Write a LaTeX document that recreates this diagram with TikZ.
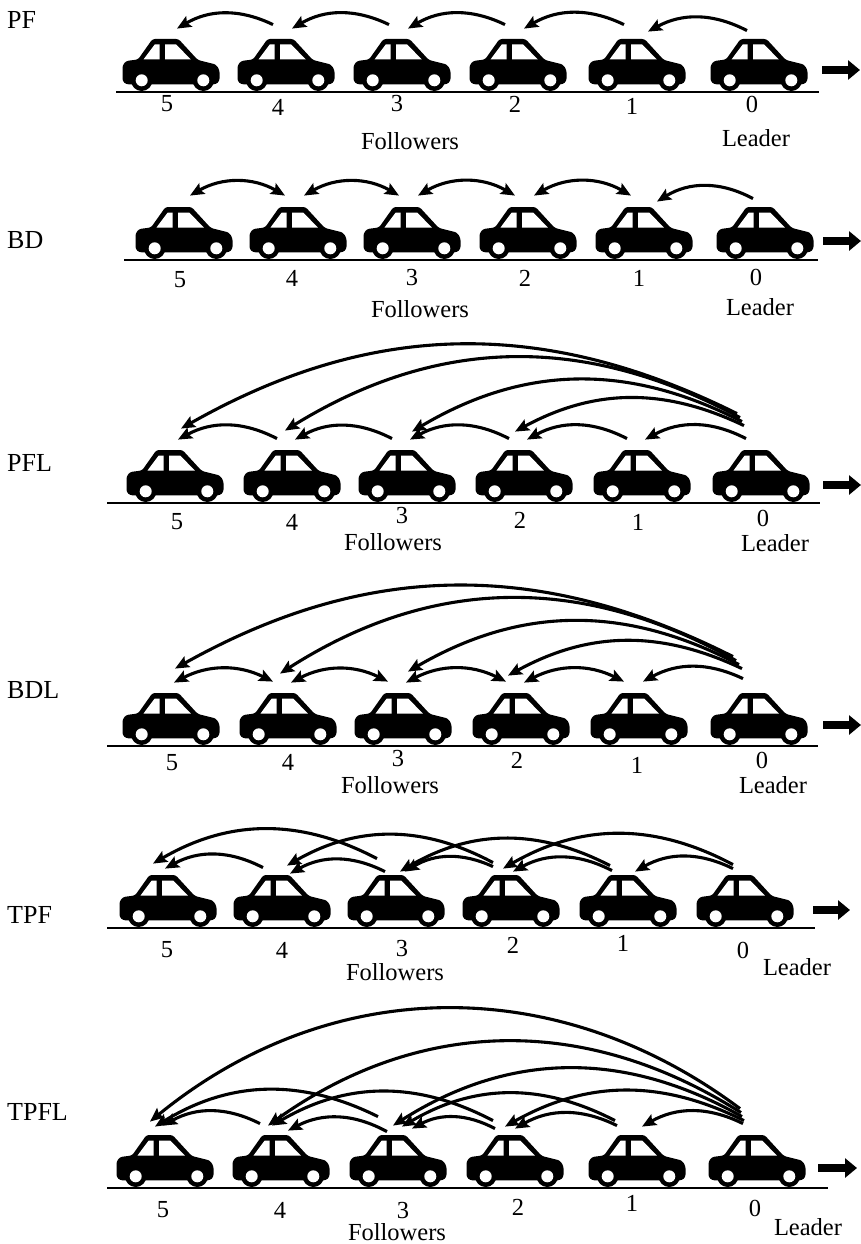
\documentclass[tikz,border=0pt]{standalone}
\usepackage{fontspec}
\setmainfont{Liberation Serif}
\usetikzlibrary{arrows.meta,calc}
% arc between two cars: [style]{from}{shift}{to}{shift}{bend}
\newcommand\linkto[6][link]{\draw[#1] ([shift={#3}]#2.north) to[bend right=#6] ([shift={#5}]#4.north);}
\begin{document}
\begin{tikzpicture}[x=1pt,y=-1pt,
  carbox/.style={rectangle,minimum width=97pt,minimum height=52pt,inner sep=0pt,anchor=south},
  road/.style={line width=2.6pt},
  tip/.style={Stealth[length=14pt,width=12pt,inset=2.5pt]},
  link/.style={line width=3.1pt,-{Stealth[length=14pt,width=12pt,inset=2.5pt]}},
  dlink/.style={line width=3.1pt,{Stealth[length=14pt,width=12pt,inset=2.5pt]}-{Stealth[length=14pt,width=12pt,inset=2.5pt]}},
  heading/.style={line width=7.5pt,-{Triangle[length=12pt,width=19pt]}},
  num/.style={font=\fontsize{24.5}{28}\selectfont,inner sep=0pt},
  rowname/.style={font=\fontsize{26}{30}\selectfont,anchor=west,inner sep=0pt},
  car/.pic={
    \fill[rounded corners=2.5pt] (-45,-6.7) -- (45,-6.7) -- (48.5,-10) -- (48.5,-21) -- (45,-26.5)
      -- (26.8,-31) -- (7.5,-52) -- (-18.5,-52) -- (-33,-31.5) -- (-45,-30) -- (-48.5,-25.5)
      -- (-48.5,-10) -- cycle;
    \fill[white] (-27.5,-31.5) -- (-16.3,-46.5) -- (-11.5,-46.5) -- (-11.5,-31.5) -- cycle;
    \fill[white] (-5.8,-31.5) -- (-5.8,-46.5) -- (5.2,-46.5) -- (19.8,-31.5) -- cycle;
    \fill (-29.3,-10.7) circle (10.7pt) (32.3,-10.7) circle (10.7pt);
    \fill[white] (-29.3,-10.7) circle (6pt) (32.3,-10.7) circle (6pt);
  }
]
\useasboundingbox (0,0) rectangle (861,1244);

% ---------- PF ----------
\node[rowname] (n1) at (7,20) {PF};
\draw[road] (116,92) -- (819,92);
\draw[heading] (822,70) -- (860,70);
\foreach \i/\x in {0/759,1/637,2/518,3/402,4/286,5/171}
  {\node[carbox] (p1c\i) at (\x,91) {}; \pic at (p1c\i.south) {car};}
\node[num] (t1c5) at (167,104) {5};
\node[num] (t1c4) at (278,107) {4};
\node[num] (t1c3) at (397,104) {3};
\node[num] (t1c2) at (515,104) {2};
\node[num] (t1c1) at (632,106) {1};
\node[num] (t1c0) at (752,104) {0};
\node[num] (f1) at (410,141) {Followers};
\node[num] (l1) at (756,138) {Leader};
\foreach \a/\b in {1/2,2/3,3/4,4/5} {\linkto{p1c\a}{(-13,-14)}{p1c\b}{(6,-10)}{28}}
\linkto{p1c0}{(-12,-8)}{p1c1}{(11,-7)}{28}

% ---------- BD ----------
\node[rowname] (n2) at (7,240) {BD};
\draw[road] (124,260) -- (818,260);
\draw[heading] (823,241) -- (861,241);
\foreach \i/\x in {0/765,1/644,2/528,3/412,4/298,5/184}
  {\node[carbox] (p2c\i) at (\x,259) {}; \pic at (p2c\i.south) {car};}
\node[num] (t2c5) at (180,280) {5};
\node[num] (t2c4) at (292,278) {4};
\node[num] (t2c3) at (412,278) {3};
\node[num] (t2c2) at (525,278) {2};
\node[num] (t2c1) at (639,278) {1};
\node[num] (t2c0) at (756,277) {0};
\node[num] (f2) at (420,309) {Followers};
\node[num] (l2) at (760,307) {Leader};
\foreach \a/\b in {1/2,2/3,3/4,4/5} {\linkto[dlink]{p2c\a}{(-13,-11)}{p2c\b}{(6,-11)}{30}}
\linkto{p2c0}{(-12,-8)}{p2c1}{(13,-5)}{30}

% ---------- PFL ----------
\node[rowname] (n3) at (7,463) {PFL};
\draw[road] (107,503) -- (820,503);
\draw[heading] (823,485) -- (861,485);
\foreach \i/\x in {0/761,1/642,2/524,3/407,4/292,5/175}
  {\node[carbox] (p3c\i) at (\x,502) {}; \pic at (p3c\i.south) {car};}
\node[num] (t3c5) at (177,522) {5};
\node[num] (t3c4) at (292,522) {4};
\node[num] (t3c3) at (402,516) {3};
\node[num] (t3c2) at (520,520) {2};
\node[num] (t3c1) at (638,522) {1};
\node[num] (t3c0) at (763,518) {0};
\node[num] (f3) at (393,542) {Followers};
\node[num] (l3) at (775,543) {Leader};
\foreach \a/\b in {0/1,1/2,2/3,3/4,4/5} {\linkto{p3c\a}{(-15,-11)}{p3c\b}{(3,-10)}{28}}
\linkto{p3c0}{(-24,-36)}{p3c5}{(6,-21)}{28}
\linkto{p3c0}{(-21,-32)}{p3c4}{(-7,-19)}{30}
\linkto{p3c0}{(-19,-28)}{p3c3}{(5,-18)}{29}
\linkto{p3c0}{(-17,-24)}{p3c2}{(-9,-18)}{27}

% ---------- BDL ----------
\node[rowname] (n4) at (7,690) {BDL};
\draw[road] (107,746) -- (818,746);
\draw[heading] (823,725) -- (861,725);
\foreach \i/\x in {0/759,1/639,2/521,3/403,4/288,5/171}
  {\node[carbox] (p4c\i) at (\x,745) {}; \pic at (p4c\i.south) {car};}
\node[num] (t4c5) at (172,763) {5};
\node[num] (t4c4) at (288,762) {4};
\node[num] (t4c3) at (398,758) {3};
\node[num] (t4c2) at (517,760) {2};
\node[num] (t4c1) at (637,765) {1};
\node[num] (t4c0) at (762,760) {0};
\node[num] (f4) at (390,785) {Followers};
\node[num] (l4) at (773,785) {Leader};
\foreach \a/\b in {1/2,2/3,3/4,4/5} {\linkto[dlink]{p4c\a}{(-15,-11)}{p4c\b}{(3,-10)}{27}}
\linkto{p4c0}{(-16,-14)}{p4c1}{(4,-11)}{27}
\linkto{p4c0}{(-26,-36)}{p4c5}{(4,-24)}{28}
\linkto{p4c0}{(-23,-32)}{p4c4}{(-8,-19)}{31}
\linkto{p4c0}{(-20,-28)}{p4c3}{(5,-21)}{29}
\linkto{p4c0}{(-17,-24)}{p4c2}{(-13,-17)}{27}

% ---------- TPF ----------
\node[rowname] (n5) at (7,915) {TPF};
\draw[road] (107,928) -- (815,928);
\draw[heading] (813,910) -- (850,910);
\foreach \i/\x in {0/745,1/628,2/511,3/396,4/282,5/168}
  {\node[carbox] (p5c\i) at (\x,927) {}; \pic at (p5c\i.south) {car};}
\node[num] (t5c5) at (167,950) {5};
\node[num] (t5c4) at (282,950) {4};
\node[num] (t5c3) at (402,948) {3};
\node[num] (t5c2) at (513,945) {2};
\node[num] (t5c1) at (623,943) {1};
\node[num] (t5c0) at (743,950) {0};
\node[num] (f5) at (395,972) {Followers};
\node[num] (l5) at (797,967) {Leader};
\linkto{p5c0}{(-12,-6)}{p5c1}{(7,-3)}{28}
\linkto{p5c1}{(-16,-4)}{p5c2}{(2,-3)}{28}
\linkto{p5c2}{(-18,-8)}{p5c3}{(9,-3)}{28}
\linkto{p5c3}{(-11,-3)}{p5c4}{(8,-1)}{28}
\linkto{p5c4}{(-19,-7)}{p5c5}{(-3,-6)}{28}
\linkto{p5c0}{(-12,-10)}{p5c2}{(-8,-6)}{29}
\linkto{p5c1}{(-18,-9)}{p5c3}{(4,-3)}{29}
\linkto{p5c2}{(-18,-12)}{p5c4}{(5,-9)}{29}
\linkto{p5c3}{(-19,-16)}{p5c5}{(-15,-11)}{29}

% ---------- TPFL ----------
\node[rowname] (n6) at (7,1112) {TPFL};
\draw[road] (107,1188) -- (828,1188);
\draw[heading] (818,1168) -- (857,1168);
\foreach \i/\x in {0/757,1/637,2/515,3/398,4/281,5/165}
  {\node[carbox] (p6c\i) at (\x,1187) {}; \pic at (p6c\i.south) {car};}
\node[num] (t6c5) at (163,1210) {5};
\node[num] (t6c4) at (280,1210) {4};
\node[num] (t6c3) at (403,1210) {3};
\node[num] (t6c2) at (518,1207) {2};
\node[num] (t6c1) at (632,1203) {1};
\node[num] (t6c0) at (755,1208) {0};
\node[num] (f6) at (397,1232) {Followers};
\node[num] (l6) at (808,1227) {Leader};
\linkto{p6c0}{(-14,-11)}{p6c1}{(5,-8)}{28}
\linkto{p6c1}{(-20,-9)}{p6c2}{(0,-6)}{28}
\linkto{p6c2}{(-20,-6)}{p6c3}{(14,-6)}{28}
\linkto{p6c3}{(-11,-3)}{p6c4}{(7,-4)}{28}
\linkto{p6c4}{(-21,-11)}{p6c5}{(-2,-9)}{28}
\linkto{p6c0}{(-13,-14)}{p6c2}{(-10,-8)}{28}
\linkto{p6c1}{(-22,-14)}{p6c3}{(4,-8)}{29}
\linkto{p6c2}{(-22,-14)}{p6c4}{(-9,-9)}{29}
\linkto{p6c3}{(-20,-18)}{p6c5}{(-10,-8)}{29}
\linkto{p6c0}{(-15,-18)}{p6c3}{(-5,-9)}{31}
\linkto{p6c0}{(-16,-22)}{p6c4}{(-13,-9)}{34}
\linkto{p6c0}{(-17,-26)}{p6c5}{(-15,-13)}{38}

\end{tikzpicture}
\end{document}
